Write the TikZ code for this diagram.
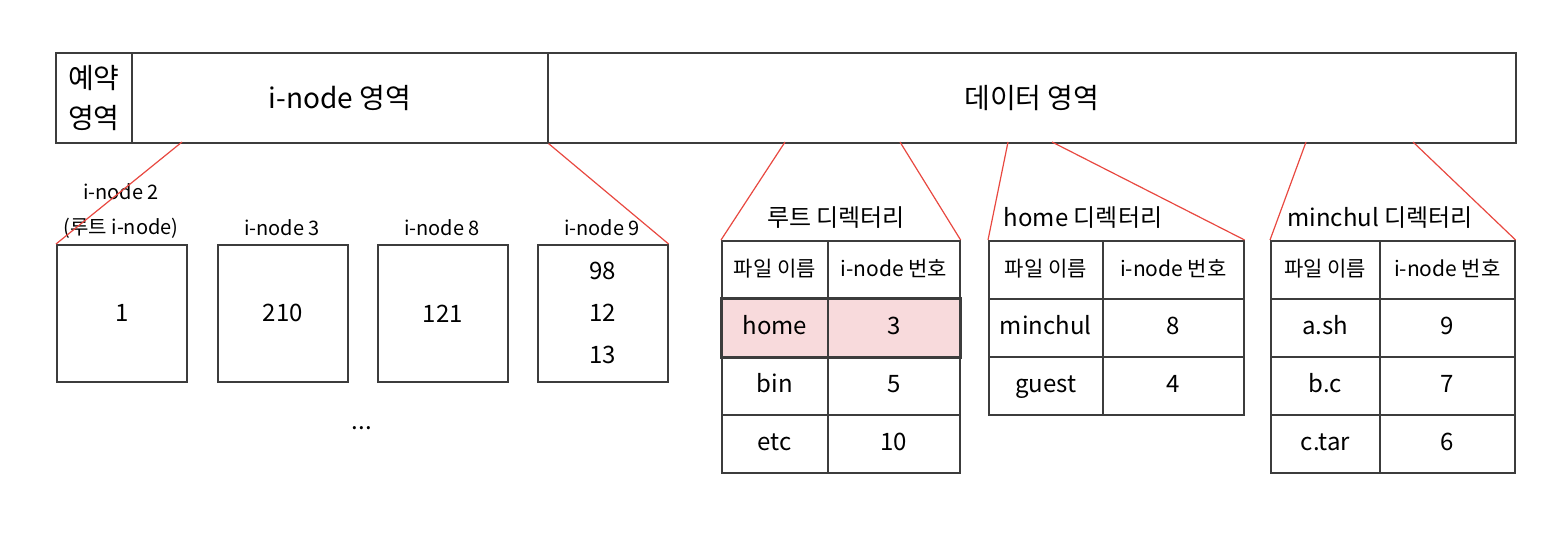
\documentclass[tikz,border=0pt]{standalone}
\usepackage{fontspec}
\setmainfont{Noto Sans CJK KR}
\usepackage{tikz}
\usetikzlibrary{positioning}
\definecolor{hlpink}{RGB}{248,218,220}
\definecolor{zoomred}{RGB}{232,72,64}
\definecolor{edge}{RGB}{60,60,60}

\begin{document}
\begin{tikzpicture}[x=0.5pt,y=-0.5pt,
    box/.style={draw=edge,line width=0.8pt,inner sep=0pt,anchor=north west,align=center,font={\fontsize{14}{20}\selectfont}},
    cell/.style={draw=edge,line width=0.8pt,inner sep=0pt,anchor=north west,minimum height=29pt,text height=9.5pt,text depth=2.5pt,font={\fontsize{12}{14}\selectfont}},
    hdr/.style={cell,font={\fontsize{10.5}{12}\selectfont}},
    lbl/.style={font={\fontsize{10}{12}\selectfont}},
    ttl/.style={font={\fontsize{12}{14}\selectfont}},
    zoomln/.style={draw=zoomred,line width=0.6pt}]
  \useasboundingbox (0,0) rectangle (1556,540);
  % disk layout
  \node[box,minimum width=38pt,minimum height=45pt] (rsv) at (55,52) {예약\\영역};
  \node[box,minimum width=208pt,minimum height=45pt] (inarea) at (131,52) {i-node 영역};
  \node[box,minimum width=484pt,minimum height=45pt] (data) at (547,52) {데이터 영역};
  % i-nodes
  \foreach \x/\n/\v in {56/2/1, 217/3/210, 377/8/121, 537/9/{98\\12\\13}}
    \node[box,minimum width=65pt,minimum height=68.5pt,font={\fontsize{12}{21}\selectfont}] (ino\n) at (\x,244) {\v};
  \node[lbl,align=center,font={\fontsize{10}{17.5}\selectfont}] (lb2) at (121,211) {i-node 2\\(루트 i-node)};
  \foreach \x/\n in {217/3, 377/8, 537/9}
    \node[lbl] (lb\n) at (\x+65,228) {i-node \n};
  \node[font={\fontsize{12}{14}\selectfont}] (dots) at (362,428) {...};
  % root directory
  \node[ttl] (rt) at (836,218) {루트 디렉터리};
  \node[hdr,minimum width=53pt] (rh1) at (721,240) {파일 이름};
  \node[hdr,minimum width=66pt] (rh2) at (827,240) {i-node 번호};
  \foreach \a/\b/\f [count=\i] in {home/3/hlpink, bin/5/white, etc/10/white}{
    \node[cell,minimum width=53pt,fill=\f] (ra\i) at (721,240+58*\i) {\a};
    \node[cell,minimum width=66pt,fill=\f] (rb\i) at (827,240+58*\i) {\b};
  }
  \draw[edge,line width=1.4pt] (ra1.north west) rectangle (rb1.south east);
  % home directory
  \node[ttl] (ht) at (1083,218) {home 디렉터리};
  \node[hdr,minimum width=57pt] (hh1) at (988,240) {파일 이름};
  \node[hdr,minimum width=70.5pt] (hh2) at (1102,240) {i-node 번호};
  \foreach \a/\b [count=\i] in {minchul/8, guest/4}{
    \node[cell,minimum width=57pt] (ha\i) at (988,240+58*\i) {\a};
    \node[cell,minimum width=70.5pt] (hb\i) at (1102,240+58*\i) {\b};
  }
  % minchul directory
  \node[ttl] (mt) at (1380,218) {minchul 디렉터리};
  \node[hdr,minimum width=54.5pt] (mh1) at (1270,240) {파일 이름};
  \node[hdr,minimum width=67.5pt] (mh2) at (1379,240) {i-node 번호};
  \foreach \a/\b [count=\i] in {a.sh/9, b.c/7, c.tar/6}{
    \node[cell,minimum width=54.5pt] (ma\i) at (1270,240+58*\i) {\a};
    \node[cell,minimum width=67.5pt] (mb\i) at (1379,240+58*\i) {\b};
  }
  % zoom lines
  \coordinate (z1) at (182,142);
  \coordinate (z3) at (785,142);
  \coordinate (z4) at (900,142);
  \coordinate (z5) at (1008,142);
  \coordinate (z6) at (1052,142);
  \coordinate (z7) at (1306,142);
  \coordinate (z8) at (1413,142);
  \draw[zoomln] (z1) -- (ino2.north west);
  \draw[zoomln] (inarea.south east) -- (ino9.north east);
  \draw[zoomln] (z3) -- (rh1.north west);
  \draw[zoomln] (z4) -- (rh2.north east);
  \draw[zoomln] (z5) -- (hh1.north west);
  \draw[zoomln] (z6) -- (hh2.north east);
  \draw[zoomln] (z7) -- (mh1.north west);
  \draw[zoomln] (z8) -- (mh2.north east);
\end{tikzpicture}
\end{document}
